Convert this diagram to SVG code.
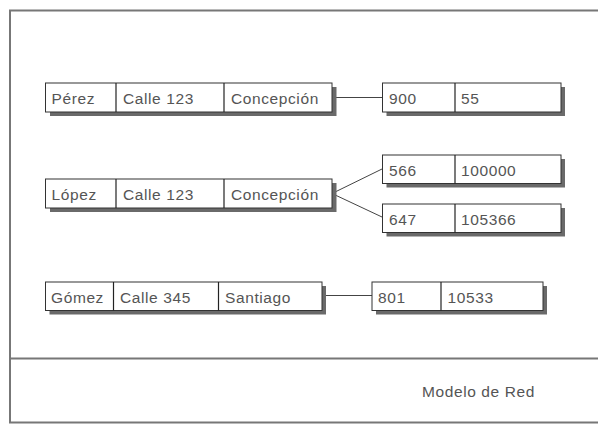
<svg xmlns="http://www.w3.org/2000/svg" width="598" height="424" viewBox="0 0 598 424">
<style>
.frame{fill:none;stroke:#777;stroke-width:2}
.sh{fill:#6a6a6a}
.bx{fill:#fff;stroke:#333;stroke-width:1}
.dv{stroke:#222;stroke-width:1.2}
.t{font-family:"Liberation Sans",Arial,sans-serif;font-size:15.5px;letter-spacing:0.6px;fill:#555}
.cn{fill:none;stroke:#444;stroke-width:1}
</style>
<rect width="598" height="424" fill="#fff"/>
<g id="frame">
<path class="frame" d="M598,10.5 H10 V422.5 H598"/>
<line class="frame" x1="10" y1="358.5" x2="598" y2="358.5"/>
</g>
<g id="connectors">
<line class="cn" x1="332" y1="97.5" x2="382" y2="97.5"/>
<line class="cn" x1="332" y1="193.5" x2="382" y2="169"/>
<line class="cn" x1="332" y1="193.5" x2="382" y2="217"/>
<line class="cn" x1="322" y1="295.5" x2="372" y2="295.5"/>
</g>
<g id="perez">
<rect class="sh" x="50" y="87" width="286.5" height="29"/>
<rect class="bx" x="45.5" y="83" width="286.5" height="29"/>
<line class="dv" x1="116" y1="83" x2="116" y2="112"/>
<line class="dv" x1="224" y1="83" x2="224" y2="112"/>
<text class="t" x="51.5" y="104">Pérez</text>
<text class="t" x="123" y="104">Calle 123</text>
<text class="t" x="231" y="104">Concepción</text>
</g>
<g id="r900">
<rect class="sh" x="386.5" y="87" width="178.5" height="29"/>
<rect class="bx" x="382.5" y="83" width="178.5" height="29"/>
<line class="dv" x1="455" y1="83" x2="455" y2="112"/>
<text class="t" x="389" y="104">900</text>
<text class="t" x="461" y="104">55</text>
</g>
<g id="lopez">
<rect class="sh" x="50" y="183" width="286.5" height="29"/>
<rect class="bx" x="45.5" y="179" width="286.5" height="29"/>
<line class="dv" x1="116" y1="179" x2="116" y2="208"/>
<line class="dv" x1="224" y1="179" x2="224" y2="208"/>
<text class="t" x="51.5" y="200">López</text>
<text class="t" x="123" y="200">Calle 123</text>
<text class="t" x="231" y="200">Concepción</text>
</g>
<g id="r566">
<rect class="sh" x="386.5" y="159" width="178.5" height="28.5"/>
<rect class="bx" x="382.5" y="155" width="178.5" height="28.5"/>
<line class="dv" x1="455" y1="155" x2="455" y2="183.5"/>
<text class="t" x="389" y="176">566</text>
<text class="t" x="461" y="176">100000</text>
</g>
<g id="r647">
<rect class="sh" x="386.5" y="208" width="178.5" height="28.5"/>
<rect class="bx" x="382.5" y="204" width="178.5" height="28.5"/>
<line class="dv" x1="455" y1="204" x2="455" y2="232.5"/>
<text class="t" x="389" y="225">647</text>
<text class="t" x="461" y="225">105366</text>
</g>
<g id="gomez">
<rect class="sh" x="49.5" y="286" width="276.5" height="28.5"/>
<rect class="bx" x="45.5" y="282" width="276.5" height="28.5"/>
<line class="dv" x1="113.5" y1="282" x2="113.5" y2="310.5"/>
<line class="dv" x1="218.5" y1="282" x2="218.5" y2="310.5"/>
<text class="t" x="51" y="302.5">Gómez</text>
<text class="t" x="120" y="302.5">Calle 345</text>
<text class="t" x="225" y="302.5">Santiago</text>
</g>
<g id="r801">
<rect class="sh" x="376" y="286" width="171" height="28.5"/>
<rect class="bx" x="372" y="282" width="171" height="28.5"/>
<line class="dv" x1="441" y1="282" x2="441" y2="310.5"/>
<text class="t" x="378" y="302.5">801</text>
<text class="t" x="447.5" y="302.5">10533</text>
</g>
<g id="caption">
<text class="t" x="422" y="396.5">Modelo de Red</text>
</g>
</svg>
